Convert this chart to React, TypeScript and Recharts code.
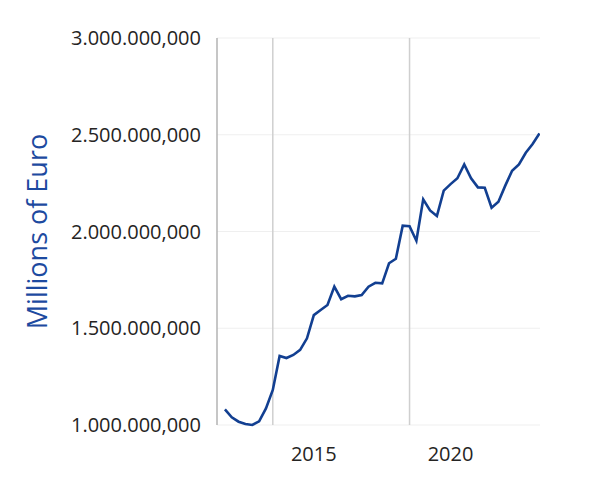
import React from 'react';
import { LineChart, Line, XAxis, YAxis, CartesianGrid, ReferenceLine, Label } from 'recharts';

const quarters = [
  2011.75, 2012, 2012.25, 2012.5, 2012.75, 2013, 2013.25, 2013.5, 2013.75,
  2014, 2014.25, 2014.5, 2014.75, 2015, 2015.25, 2015.5, 2015.75,
  2016, 2016.25, 2016.5, 2016.75, 2017, 2017.25, 2017.5, 2017.75,
  2018, 2018.25, 2018.5, 2018.75, 2019, 2019.25, 2019.5, 2019.75,
  2020, 2020.25, 2020.5, 2020.75, 2021, 2021.25, 2021.5, 2021.75,
  2022, 2022.25, 2022.5, 2022.75, 2023, 2023.25,
];

const values = [
  1081000, 1040000, 1017000, 1005000, 1000000, 1019000, 1086000, 1181000, 1357000, 1346000,
  1362000, 1388000, 1448000, 1568000, 1594000, 1620000, 1715000, 1650000, 1668000, 1665000,
  1672000, 1715000, 1735000, 1732000, 1836000, 1859000, 2030000, 2027000, 1952000, 2166000,
  2109000, 2080000, 2211000, 2245000, 2275000, 2347000, 2275000, 2228000, 2226000, 2123000,
  2154000, 2237000, 2314000, 2347000, 2407000, 2452000, 2507000,
];

const yTicks = [1000000, 1500000, 2000000, 2500000, 3000000];
const xTicks = [2015, 2020];
const xGridLines = [2013.5, 2018.5];
const yLabel = 'Millions of Euro';

const data = quarters.map((q, i) => ({ t: q, v: values[i] }));

const fmt = (v: number) => {
  const s = Math.round(v).toString();
  const parts: string[] = [];
  for (let i = s.length; i > 0; i -= 3) parts.unshift(s.slice(Math.max(0, i - 3), i));
  return parts.join('.') + ',000';
};

const FONT = '"Open Sans", "Segoe UI", sans-serif';

const YLabelContent = (props: any) => {
  const vb = props.viewBox || {};
  const cx = (vb.x || 0) + 36;
  const cy = (vb.y || 0) + (vb.height || 0) / 2;
  return (
    <text
      x={cx}
      y={cy}
      transform={`rotate(-90 ${cx} ${cy})`}
      textAnchor="middle"
      dominantBaseline="central"
      fontSize={27}
      fill="#1d4aa0"
      fontFamily={FONT}
    >
      {yLabel}
    </text>
  );
};

export default function App() {
  return (
    <div style={{ position: 'absolute', left: 0, top: 0, width: 611, height: 497, background: '#fff' }}>
      <LineChart width={611} height={497} data={data} margin={{ top: 38, right: 71, bottom: 12, left: 0 }}>
        <CartesianGrid vertical={false} stroke="#efefef" strokeWidth={1} />
        <XAxis
          dataKey="t"
          type="number"
          domain={[2011.46, 2023.27]}
          ticks={xTicks}
          axisLine={false}
          tickLine={false}
          tickMargin={16}
          height={60}
          tick={{ fontSize: 20, fill: '#252423', fontFamily: FONT }}
          allowDataOverflow
        />
        <YAxis
          type="number"
          domain={[1000000, 3000000]}
          ticks={yTicks}
          tickFormatter={fmt}
          width={217}
          axisLine={{ stroke: '#b3b3b3', strokeWidth: 1.5 }}
          tickLine={false}
          tickMargin={10}
          tick={{ fontSize: 20, fill: '#252423', fontFamily: FONT }}
        >
          <Label content={<YLabelContent />} />
        </YAxis>
        {xGridLines.map((x) => (
          <ReferenceLine key={x} x={x} stroke="#cfcfcf" strokeWidth={1.5} />
        ))}
        <Line
          type="linear"
          dataKey="v"
          stroke="#123f91"
          strokeWidth={2.6}
          dot={false}
          isAnimationActive={false}
        />
      </LineChart>
    </div>
  );
}
